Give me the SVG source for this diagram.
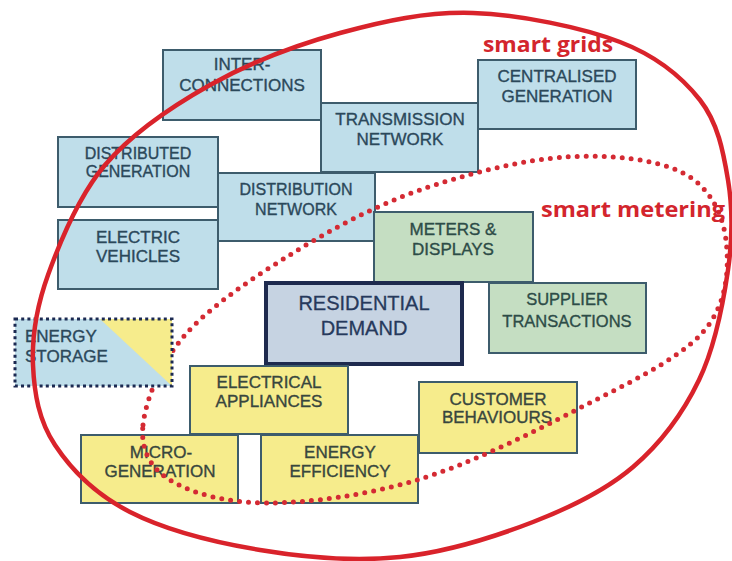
<svg xmlns="http://www.w3.org/2000/svg" width="732" height="561" viewBox="0 0 732 561">
  <style>
    .box { stroke: #3d5c6c; stroke-width: 2; }
    .blue { fill: #bfdeea; }
    .green { fill: #c5dec2; }
    .yellow { fill: #f6ec8c; }
    .lbl { font-family: "Liberation Sans", Arial, sans-serif; font-size: 17px; text-anchor: middle; fill: #2b485a; stroke: #2b485a; stroke-width: 0.35; }
    .lbl-g { fill: #2d4c47; stroke: #2d4c47; }
    .lbl-y { fill: #38463e; stroke: #38463e; }
    .zone { font-family: "Open Sans", "Liberation Sans", sans-serif; font-weight: bold; font-size: 22px; fill: #d3252d; }
    .grids { fill: none; stroke: #d9232b; stroke-width: 4.5; }
    .metering { fill: none; stroke: #d42a33; stroke-width: 5; stroke-dasharray: 0 9; stroke-linecap: round; }
  </style>

  <rect width="732" height="561" fill="#ffffff"/>

  <g id="inter-connections">
    <rect class="box blue" x="163" y="50" width="158" height="70"/>
    <text class="lbl" x="242" y="70">INTER-</text>
    <text class="lbl" x="242" y="91">CONNECTIONS</text>
  </g>
  <g id="transmission-network">
    <rect class="box blue" x="321" y="103" width="157" height="69"/>
    <text class="lbl" x="400" y="125">TRANSMISSION</text>
    <text class="lbl" x="400" y="145">NETWORK</text>
  </g>
  <g id="centralised-generation">
    <rect class="box blue" x="478" y="60" width="158" height="69"/>
    <text class="lbl" x="557" y="82">CENTRALISED</text>
    <text class="lbl" x="557" y="102">GENERATION</text>
  </g>
  <g id="distributed-generation">
    <rect class="box blue" x="58" y="137" width="160" height="70"/>
    <text class="lbl" x="138" y="159" style="font-size:16px">DISTRIBUTED</text>
    <text class="lbl" x="138" y="177" style="font-size:16px">GENERATION</text>
  </g>
  <g id="distribution-network">
    <rect class="box blue" x="218" y="173" width="157" height="68"/>
    <text class="lbl" x="296" y="195" style="font-size:16px">DISTRIBUTION</text>
    <text class="lbl" x="296" y="215" style="font-size:16px">NETWORK</text>
  </g>
  <g id="electric-vehicles">
    <rect class="box blue" x="58" y="220" width="160" height="69"/>
    <text class="lbl" x="138" y="243">ELECTRIC</text>
    <text class="lbl" x="138" y="262">VEHICLES</text>
  </g>
  <g id="meters-displays">
    <rect class="box green" x="374" y="212" width="159" height="70"/>
    <text class="lbl lbl-g" x="453" y="235">METERS &amp;</text>
    <text class="lbl lbl-g" x="453" y="255">DISPLAYS</text>
  </g>
  <g id="residential-demand">
    <rect x="266" y="283" width="196" height="81" fill="#c6d3e2" stroke="#1e2a4e" stroke-width="4"/>
    <text class="lbl" x="364" y="310" style="font-size:20px;fill:#26395c;stroke:#26395c;stroke-width:0.3">RESIDENTIAL</text>
    <text class="lbl" x="364" y="335" style="font-size:20px;fill:#26395c;stroke:#26395c;stroke-width:0.3">DEMAND</text>
  </g>
  <g id="supplier-transactions">
    <rect class="box green" x="489" y="283" width="157" height="70"/>
    <text class="lbl lbl-g" x="567" y="305" style="font-size:16.5px">SUPPLIER</text>
    <text class="lbl lbl-g" x="567" y="327" style="font-size:16.5px">TRANSACTIONS</text>
  </g>
  <g id="electrical-appliances">
    <rect class="box yellow" x="190" y="366" width="158" height="68"/>
    <text class="lbl lbl-y" x="269" y="388">ELECTRICAL</text>
    <text class="lbl lbl-y" x="269" y="407">APPLIANCES</text>
  </g>
  <g id="customer-behaviours">
    <rect class="box yellow" x="419" y="382" width="158" height="71"/>
    <text class="lbl lbl-y" x="498" y="405">CUSTOMER</text>
    <text class="lbl lbl-y" x="497" y="423">BEHAVIOURS</text>
  </g>
  <g id="micro-generation">
    <rect class="box yellow" x="81" y="435" width="157" height="68"/>
    <text class="lbl lbl-y" x="161" y="458">MICRO-</text>
    <text class="lbl lbl-y" x="160" y="477">GENERATION</text>
  </g>
  <g id="energy-efficiency">
    <rect class="box yellow" x="261" y="435" width="157" height="68"/>
    <text class="lbl lbl-y" x="340" y="458">ENERGY</text>
    <text class="lbl lbl-y" x="340" y="477">EFFICIENCY</text>
  </g>

  <!-- boundaries: smart metering (dotted) and smart grids (solid) -->
  <g id="connectors">
    <path id="smart-metering-boundary" class="metering" d="M143 425 C145.5 400.8 160 363.7 185 335 C210 306.3 253.8 277.2 293 253 C332.2 228.8 374.5 206 420 190 C465.5 174 522.2 159.8 566 157 C609.8 154.2 656.3 159.2 683 173 C709.7 186.8 722.7 213.5 726 240 C729.3 266.5 728 303.7 703 332 C678 360.3 623.7 385.3 576 410 C528.3 434.7 468.5 464.5 417 480 C365.5 495.5 308.2 503 267 503 C225.8 503 190.7 493 170 480 C149.3 467 140.5 449.2 143 425 Z"/>
  </g>

  <g id="energy-storage">
    <rect x="15" y="319" width="157" height="67" fill="#bfdeea"/>
    <polygon points="100,319 172,319 172,386" fill="#f6ec8c"/>
    <rect x="15" y="319" width="157" height="67" fill="none" stroke="#1c2a52" stroke-width="3" stroke-dasharray="3 3.2"/>
    <text class="lbl" x="25" y="342" style="text-anchor:start">ENERGY</text>
    <text class="lbl" x="25" y="362" style="text-anchor:start">STORAGE</text>
  </g>

  <g id="smart-grids-zone">
    <path class="grids" d="M473 13 C519.7 14.5 582.2 27.5 620 42 C657.8 56.5 682 77 700 100 C718 123 723.3 151.7 728 180 C732.7 208.3 732.8 236.7 728 270 C723.2 303.3 714.8 347.2 699 380 C683.2 412.8 660.7 443.3 633 467 C605.3 490.7 571.8 507 533 522 C494.2 537 445.5 552.3 400 557 C354.5 561.7 305 557.5 260 550 C215 542.5 164.2 529.5 130 512 C95.8 494.5 71.2 469.5 55 445 C38.8 420.5 34.2 393.3 33 365 C31.8 336.7 36 308.3 48 275 C60 241.7 78 196.7 105 165 C132 133.3 170.8 107 210 85 C249.2 63 296.2 45 340 33 C383.8 21 426.3 11.5 473 13 Z"/>
    <text class="zone" x="483" y="52" textLength="130" lengthAdjust="spacingAndGlyphs">smart grids</text>
  </g>
  <g id="smart-metering-zone">
    <text class="zone" x="541" y="217" textLength="184" lengthAdjust="spacingAndGlyphs">smart metering</text>
  </g>
</svg>
